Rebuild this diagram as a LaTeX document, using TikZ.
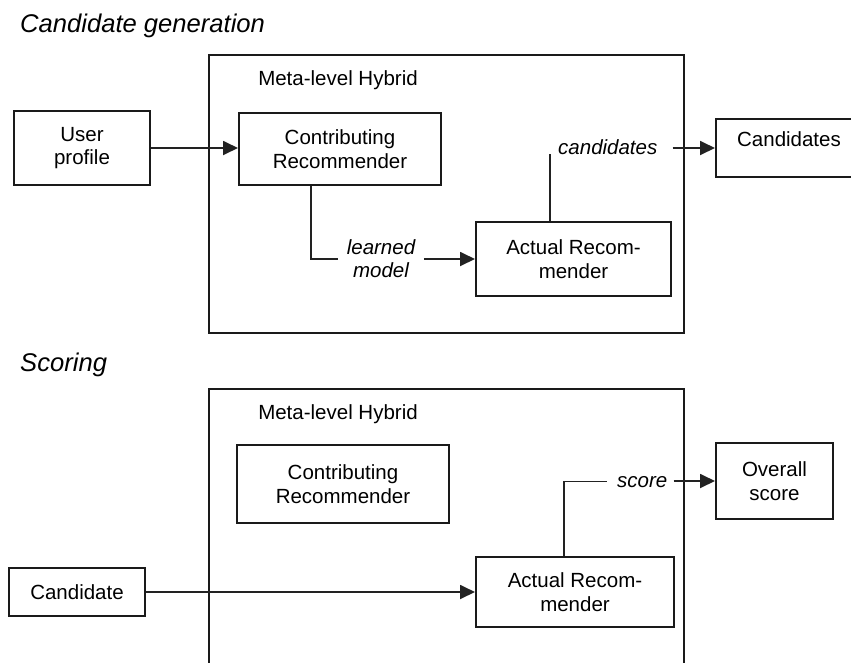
\documentclass[tikz,border=0pt]{standalone}
\usepackage{fontspec}
\setmainfont{Liberation Sans}
\usetikzlibrary{arrows.meta}

\definecolor{ink}{HTML}{1A1A1A}
\definecolor{wire}{HTML}{222222}

\tikzset{
  frame/.style={draw=ink, line width=2pt},
  box/.style={draw=ink, line width=2pt, fill=white, rectangle, inner sep=0pt,
              align=center, font=\fontsize{20.5}{23.5}\selectfont},
  lbl/.style={inner sep=0pt, font=\fontsize{20.5}{23.5}\selectfont},
  flowlbl/.style={inner sep=0pt, align=center, font=\fontsize{20.5}{23}\selectfont\itshape},
  heading/.style={inner sep=0pt, anchor=base west, font=\fontsize{25.6}{30}\selectfont\itshape},
  wireline/.style={draw=wire, line width=1.8pt},
  arr/.style={wireline, -{Triangle[length=15pt,width=14pt]}}
}

\begin{document}
\begin{tikzpicture}[x=1pt, y=-1pt]
  \useasboundingbox (0,0) rectangle (851,662);

  % ---------------- Candidate generation ----------------
  \node[heading] (title1) at (20,32.5) {Candidate generation};
  \draw[frame] (209,55) rectangle (684,333);
  \node[lbl, anchor=base] (hyb1) at (338,85) {Meta-level Hybrid};

  \node[box, minimum width=136pt, minimum height=74pt] (user) at (82,148) {User\\profile};
  \node[box, minimum width=202pt, minimum height=72pt] (contrib1) at (340,149) {Contributing\\Recommender};
  \node[box, minimum width=195pt, minimum height=74pt] (actual1) at (573.5,259) {Actual Recom-\\mender};
  \node[box, minimum width=146pt, minimum height=58pt, text depth=18pt] (cands) at (789,148) {Candidates};

  \node[flowlbl, inner xsep=8.5pt] (learned) at (381,259) {learned\\model};
  \node[flowlbl, anchor=base west] (candlbl) at (558,154) {candidates};

  \draw[arr] (user.east) -- (user.east -| contrib1.west);
  \draw[wireline] ([xshift=73pt]contrib1.south west) |- (learned.west);
  \draw[arr] (learned.east) -- (learned.east -| actual1.west);
  \draw[wireline] ([xshift=75pt]actual1.north west) -- ([xshift=75pt]actual1.north west |- candlbl.south);
  \draw[arr] ([xshift=15pt]candlbl.east |- cands.west) -- (cands.west);

  % ---------------- Scoring ----------------
  \node[heading] (title2) at (20,371) {Scoring};
  \draw[frame] (209,680) |- (684,389) -- (684,680);
  \node[lbl, anchor=base] (hyb2) at (338,419) {Meta-level Hybrid};

  \node[box, minimum width=212pt, minimum height=78pt] (contrib2) at (343,484) {Contributing\\Recommender};
  \node[box, minimum width=136pt, minimum height=48pt] (cand) at (77,592) {Candidate};
  \node[box, minimum width=198pt, minimum height=70pt] (actual2) at (575,592) {Actual Recom-\\mender};
  \node[box, minimum width=117pt, minimum height=76pt] (overall) at (774.5,481) {Overall\\score};

  \node[flowlbl, anchor=base west] (scorelbl) at (617,487) {score};

  \draw[arr] (cand.east) -- (cand.east -| actual2.west);
  \draw[wireline] ([xshift=89pt]actual2.north west) |- ([xshift=-10pt]scorelbl.west);
  \draw[arr] ([xshift=6pt]scorelbl.east |- overall.west) -- (overall.west);
\end{tikzpicture}
\end{document}
